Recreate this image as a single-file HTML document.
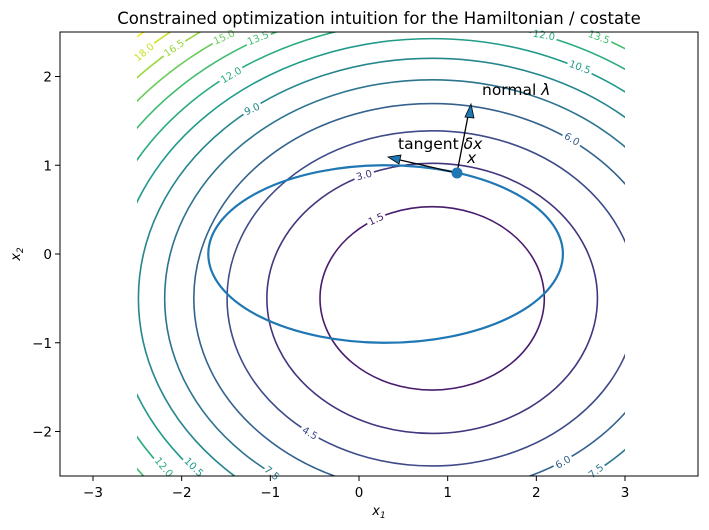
<!DOCTYPE html>
<html><head><meta charset="utf-8"><style>
html,body{margin:0;padding:0;overflow:hidden;background:#fff;width:709px;height:530px}
svg{display:block}
svg text{font-family:"DejaVu Sans","Liberation Sans",sans-serif}
</style></head><body>
<svg id="s" width="709" height="530" xmlns="http://www.w3.org/2000/svg">
<defs><clipPath id="g"><rect x="137" y="32" width="488" height="444"/></clipPath>
<clipPath id="ax"><rect x="60" y="32" width="638" height="444"/></clipPath></defs>
<rect width="709" height="530" fill="#fff"/>
<g id="cont" clip-path="url(#g)"></g>
<g id="labs" font-size="10"></g>
<g clip-path="url(#ax)">
<ellipse cx="385.6" cy="254" rx="177.3" ry="88.75" fill="none" stroke="#1f77b4" stroke-width="2.2"/>
</g>
<line x1="457" y1="173" x2="468" y2="116" stroke="#000" stroke-width="1.3"/>
<polygon points="471,104 465,117 474,118" fill="#1f77b4" stroke="#000" stroke-width="0.8"/>
<line x1="457" y1="173" x2="400" y2="160" stroke="#000" stroke-width="1.3"/>
<polygon points="388,157 401,155 399,164" fill="#1f77b4" stroke="#000" stroke-width="0.8"/>
<circle cx="457" cy="173" r="5.5" fill="#1f77b4"/>
<text x="482" y="95" font-size="15.5">normal  <tspan font-style="italic">λ</tspan></text>
<text x="398" y="149" font-size="15.5">tangent <tspan font-style="italic">δx</tspan></text>
<text x="467" y="163" font-size="15.5" font-style="italic">x</text>
<rect x="60" y="32" width="638" height="444" fill="none" stroke="#000" stroke-width="1"/>
<g id="ticks" font-size="13.5" fill="#000"></g>
<text x="379" y="24" font-size="16.5" text-anchor="middle">Constrained optimization intuition for the Hamiltonian / costate</text>
<text x="379" y="515" font-size="13" text-anchor="middle" font-style="italic">x<tspan font-size="9" dy="3">1</tspan></text>
<text transform="translate(20,254) rotate(-90)" font-size="13" text-anchor="middle" font-style="italic">x<tspan font-size="9" dy="3">2</tspan></text>
</svg>
<script>
var NS="http://www.w3.org/2000/svg";
function X(x){return 359+x*88.67}function Y(y){return 254-y*88.75}
var vir=["#440154","#482878","#3e4989","#31688e","#26828e","#1f9e89","#35b779","#6ece58","#b5de2b","#fde725"];
function h(c){return [parseInt(c.substr(1,2),16),parseInt(c.substr(3,2),16),parseInt(c.substr(5,2),16)]}
function col(t){var p=t*9,i=Math.min(8,Math.floor(p)),f=p-i,a=h(vir[i]),b=h(vir[i+1]);
return "rgb("+[0,1,2].map(function(k){return Math.round(a[k]+(b[k]-a[k])*f)}).join(",")+")"}
var cont=document.getElementById("cont"),cols={};
for(var k=1;k<=13;k++){var f=k*1.5;var c=col(k/13);cols[f.toFixed(1)]=c;
var e=document.createElementNS(NS,"ellipse");
e.setAttribute("cx",X(0.825));e.setAttribute("cy",Y(-0.5));
e.setAttribute("rx",Math.sqrt((f-0.22)/0.8)*88.67);e.setAttribute("ry",Math.sqrt((f-0.22)/1.2)*88.75);
e.setAttribute("fill","none");e.setAttribute("stroke",c);e.setAttribute("stroke-width","1.6");cont.appendChild(e);}
var L=[["18.0",144,52,-40],["16.5",174,48,-35],["15.0",224,37,-25],["13.5",258,38,-22],["12.0",231,75,-30],["9.0",252,109,-25],["3.0",364,175,-15],["1.5",376,219,-25],
["12.0",544,35,10],["13.5",599,37,20],["10.5",580,67,20],["6.0",572,139,30],["4.5",310,433,30],["6.0",563,462,-30],["7.5",596,471,-40],["7.5",272,473,40],["10.5",194,467,45],["12.0",164,467,50]];
var lg=document.getElementById("labs");
L.forEach(function(l){var t=document.createElementNS(NS,"text");t.textContent=l[0];
t.setAttribute("transform","translate("+l[1]+","+l[2]+") rotate("+l[3]+")");
t.setAttribute("text-anchor","middle");t.setAttribute("dy","3.5");t.setAttribute("fill",cols[l[0]]);
t.setAttribute("stroke","#fff");t.setAttribute("stroke-width","6");t.setAttribute("paint-order","stroke");lg.appendChild(t);});
var tg=document.getElementById("ticks"),s="";
for(var i=-3;i<=3;i++){var x=X(i);s+='<line x1="'+x+'" y1="476" x2="'+x+'" y2="481" stroke="#000"/><text x="'+x+'" y="497" text-anchor="middle">'+(i<0?"−"+(-i):i)+'</text>';}
for(var j=-2;j<=2;j++){var y=Y(j);s+='<line x1="55" y1="'+y+'" x2="60" y2="'+y+'" stroke="#000"/><text x="52" y="'+(y+5)+'" text-anchor="end">'+(j<0?"−"+(-j):j)+'</text>';}
tg.innerHTML=s;
</script>
</body></html>
